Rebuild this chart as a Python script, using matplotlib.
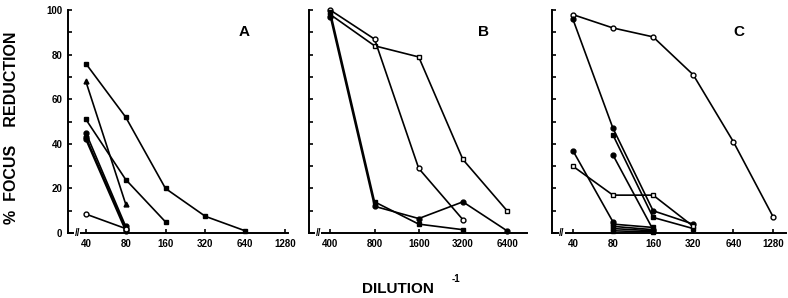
import matplotlib.pyplot as plt
import numpy as np

plt.rcParams['font.family'] = ['Liberation Sans', 'DejaVu Sans']
plt.rcParams['font.weight'] = 'bold'

# panel A
a_ticks = [40, 80, 160, 320, 640, 1280]
a_series = [
    ([40, 80, 160, 320, 640], [76, 52, 20, 7.5, 1], 's', 'k'),
    ([40, 80], [68, 13], '^', 'k'),
    ([40, 80, 160], [51, 24, 5], 's', 'k'),
    ([40, 80], [45, 3], 'o', 'k'),
    ([40, 80], [43, 2], 'o', 'k'),
    ([40, 80], [42, 1], 'o', 'k'),
    ([40, 80], [8.5, 2], 'o', 'w'),
]

# panel B
b_ticks = [400, 800, 1600, 3200, 6400]
b_series = [
    ([400, 800, 1600, 3200, 6400], [98, 84, 79, 33, 10], 's', 'w'),
    ([400, 800, 1600, 3200], [100, 87, 29, 6], 'o', 'w'),
    ([400, 800, 1600, 3200, 6400], [97, 12, 6.5, 14, 1], 'o', 'k'),
    ([400, 800, 1600, 3200], [99, 14, 4, 1.5], 's', 'k'),
]

# panel C
c_ticks = [40, 80, 160, 320, 640, 1280]
c_series = [
    ([40, 80, 160, 320, 640, 1280], [98, 92, 88, 71, 41, 7], 'o', 'w'),
    ([40, 80, 160, 320], [96, 47, 10, 4], 'o', 'k'),
    ([80, 160, 320], [44, 7, 2], 's', 'k'),
    ([80, 160], [35, 1.5], 'o', 'k'),
    ([40, 80], [37, 5], 'o', 'k'),
    ([40, 80, 160, 320], [30, 17, 17, 3], 's', 'w'),
    ([80, 160], [4, 2.5], 's', 'k'),
    ([80, 160], [3, 1.5], 's', 'k'),
    ([80, 160], [2, 1], 's', 'k'),
    ([80, 160], [1, 0.5], 's', 'k'),
]

fig = plt.figure(figsize=(7.88, 2.98), dpi=100)

panels = [
    ([68 / 788, 0.218, 220 / 788, 0.748], a_ticks, a_series, 'A', (29.3, 1350)),
    ([309 / 788, 0.218, 218 / 788, 0.748], b_ticks, b_series, 'B', (286, 8750)),
    ([552 / 788, 0.218, 234 / 788, 0.748], c_ticks, c_series, 'C', (27.9, 1590)),
]

for i, (rect, ticks, series, name, xl) in enumerate(panels):
    ax = fig.add_axes(rect)
    for xs, ys, m, fc in series:
        ax.plot(xs, ys, color='k', lw=1.2, marker=m, ms=3.5,
                markerfacecolor=fc, markeredgecolor='k', mew=1, clip_on=False)
    ax.set_xscale('log', base=2)
    ax.set_xlim(xl)
    ax.set_ylim(0, 100)
    ax.minorticks_off()
    ax.set_xticks(ticks)
    ax.set_xticklabels([str(t) for t in ticks], fontsize=7, fontweight='bold')
    ax.set_yticks(np.arange(0, 101, 10))
    if i == 0:
        ax.set_yticklabels([str(v) if v % 20 == 0 else '' for v in range(0, 101, 10)],
                           fontsize=7, fontweight='bold')
    else:
        ax.set_yticklabels([])
    ax.tick_params(axis='both', direction='in', length=3, width=1.2, pad=4)
    for s in ['top', 'right']:
        ax.spines[s].set_visible(False)
    for s in ['left', 'bottom']:
        ax.spines[s].set_linewidth(1.4)
    # axis break mark
    ax.text(0.03, 0.0, '//', transform=ax.transAxes, ha='left', va='center',
            fontsize=7, fontweight='bold',
            bbox=dict(fc='w', ec='none', pad=0.3), zorder=5)
    ax.text(0.8, 0.9, name, transform=ax.transAxes, ha='center', va='center',
            fontsize=11, fontweight='bold')

fig.text(0.014, 0.57, '%  FOCUS    REDUCTION', rotation=90, ha='center', va='center',
         fontsize=11.5, fontweight='bold')
fig.text(0.505, 0.03, 'DILUTION', ha='center', va='center', fontsize=11, fontweight='bold')
fig.text(0.579, 0.065, '-1', ha='center', va='center', fontsize=7, fontweight='bold')

fig.savefig('out.png', dpi=100)
